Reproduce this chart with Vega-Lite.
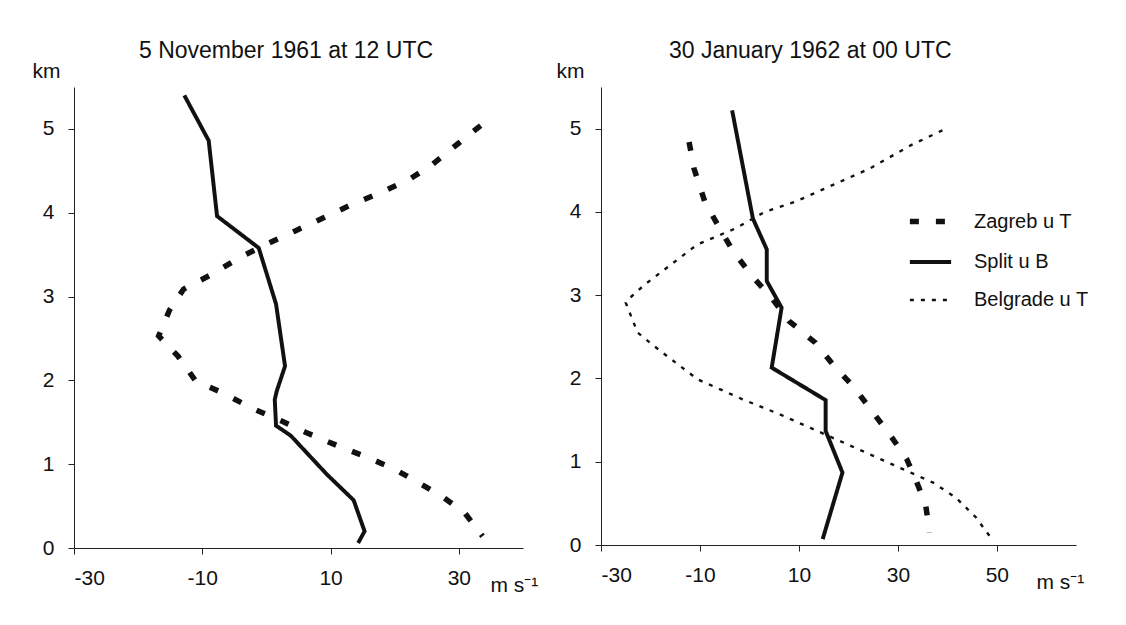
{
  "$schema": "https://vega.github.io/schema/vega-lite/v6.json",
  "background": "white",
  "padding": {"left": 32, "top": 40, "right": 10, "bottom": 10},
  "bounds": "flush",
  "spacing": 78,
  "config": {
    "font": "Liberation Sans",
    "view": {"stroke": null},
    "axis": {
      "grid": false,
      "domainColor": "#222",
      "tickColor": "#222",
      "labelColor": "#111",
      "titleColor": "#111",
      "labelFont": "Liberation Sans",
      "titleFont": "Liberation Sans",
      "labelFontSize": 21,
      "titleFontSize": 21,
      "titleFontWeight": "normal",
      "tickSize": 6,
      "labelExpr": "replace(datum.label, '−', '-')"
    },
    "title": {"font": "Liberation Sans", "fontSize": 23, "fontWeight": "normal", "color": "#111"}
  },
  "datasets": {
    "left": [
      {"station": "Split", "i": 1, "u": -12.8, "z": 5.40},
      {"station": "Split", "i": 2, "u": -9.0, "z": 4.86},
      {"station": "Split", "i": 3, "u": -7.7, "z": 3.96},
      {"station": "Split", "i": 4, "u": -1.2, "z": 3.58},
      {"station": "Split", "i": 5, "u": 1.5, "z": 2.91},
      {"station": "Split", "i": 6, "u": 2.9, "z": 2.17},
      {"station": "Split", "i": 7, "u": 1.6, "z": 1.87},
      {"station": "Split", "i": 8, "u": 1.3, "z": 1.77},
      {"station": "Split", "i": 9, "u": 1.5, "z": 1.46},
      {"station": "Split", "i": 10, "u": 3.8, "z": 1.34},
      {"station": "Split", "i": 11, "u": 9.4, "z": 0.88},
      {"station": "Split", "i": 12, "u": 13.6, "z": 0.57},
      {"station": "Split", "i": 13, "u": 15.3, "z": 0.20},
      {"station": "Split", "i": 14, "u": 14.3, "z": 0.06},
      {"station": "Zagreb", "i": 1, "u": 33.4, "z": 5.04},
      {"station": "Zagreb", "i": 2, "u": 29.8, "z": 4.82},
      {"station": "Zagreb", "i": 3, "u": 25.6, "z": 4.56},
      {"station": "Zagreb", "i": 4, "u": 22.3, "z": 4.40},
      {"station": "Zagreb", "i": 5, "u": 17.8, "z": 4.24},
      {"station": "Zagreb", "i": 6, "u": 12.8, "z": 4.08},
      {"station": "Zagreb", "i": 7, "u": 8.9, "z": 3.94},
      {"station": "Zagreb", "i": 8, "u": 4.4, "z": 3.78},
      {"station": "Zagreb", "i": 9, "u": -0.1, "z": 3.62},
      {"station": "Zagreb", "i": 10, "u": -4.3, "z": 3.46},
      {"station": "Zagreb", "i": 11, "u": -8.4, "z": 3.27},
      {"station": "Zagreb", "i": 12, "u": -12.9, "z": 3.09},
      {"station": "Zagreb", "i": 13, "u": -15.1, "z": 2.84},
      {"station": "Zagreb", "i": 14, "u": -16.8, "z": 2.53},
      {"station": "Zagreb", "i": 15, "u": -13.8, "z": 2.29},
      {"station": "Zagreb", "i": 16, "u": -11.0, "z": 1.99},
      {"station": "Zagreb", "i": 17, "u": -6.8, "z": 1.85},
      {"station": "Zagreb", "i": 18, "u": -2.3, "z": 1.67},
      {"station": "Zagreb", "i": 19, "u": 2.2, "z": 1.52},
      {"station": "Zagreb", "i": 20, "u": 6.1, "z": 1.38},
      {"station": "Zagreb", "i": 21, "u": 11.1, "z": 1.22},
      {"station": "Zagreb", "i": 22, "u": 15.8, "z": 1.08},
      {"station": "Zagreb", "i": 23, "u": 20.0, "z": 0.94},
      {"station": "Zagreb", "i": 24, "u": 23.7, "z": 0.78},
      {"station": "Zagreb", "i": 25, "u": 27.3, "z": 0.62},
      {"station": "Zagreb", "i": 26, "u": 30.9, "z": 0.42},
      {"station": "Zagreb", "i": 27, "u": 33.7, "z": 0.14}
    ],
    "right": [
      {"station": "Split", "i": 1, "u": -3.5, "z": 5.22},
      {"station": "Split", "i": 2, "u": 0.7, "z": 3.92},
      {"station": "Split", "i": 3, "u": 3.5, "z": 3.55},
      {"station": "Split", "i": 4, "u": 3.5, "z": 3.17},
      {"station": "Split", "i": 5, "u": 6.5, "z": 2.85},
      {"station": "Split", "i": 6, "u": 4.5, "z": 2.13},
      {"station": "Split", "i": 7, "u": 15.4, "z": 1.74},
      {"station": "Split", "i": 8, "u": 15.4, "z": 1.37},
      {"station": "Split", "i": 9, "u": 18.8, "z": 0.87},
      {"station": "Split", "i": 10, "u": 14.8, "z": 0.07},
      {"station": "Zagreb", "i": 1, "u": -12.2, "z": 4.84},
      {"station": "Zagreb", "i": 2, "u": -11.2, "z": 4.52},
      {"station": "Zagreb", "i": 3, "u": -9.0, "z": 4.12},
      {"station": "Zagreb", "i": 4, "u": -6.0, "z": 3.80},
      {"station": "Zagreb", "i": 5, "u": -3.3, "z": 3.53},
      {"station": "Zagreb", "i": 6, "u": 0.5, "z": 3.23},
      {"station": "Zagreb", "i": 7, "u": 4.2, "z": 2.99},
      {"station": "Zagreb", "i": 8, "u": 8.0, "z": 2.69},
      {"station": "Zagreb", "i": 9, "u": 13.3, "z": 2.43},
      {"station": "Zagreb", "i": 10, "u": 17.1, "z": 2.15},
      {"station": "Zagreb", "i": 11, "u": 21.2, "z": 1.89},
      {"station": "Zagreb", "i": 12, "u": 25.0, "z": 1.59},
      {"station": "Zagreb", "i": 13, "u": 28.8, "z": 1.29},
      {"station": "Zagreb", "i": 14, "u": 31.8, "z": 1.03},
      {"station": "Zagreb", "i": 15, "u": 33.7, "z": 0.77},
      {"station": "Zagreb", "i": 16, "u": 35.6, "z": 0.49},
      {"station": "Zagreb", "i": 17, "u": 36.4, "z": 0.15},
      {"station": "Belgrade", "i": 1, "u": 39.0, "z": 4.98},
      {"station": "Belgrade", "i": 2, "u": 32.6, "z": 4.80},
      {"station": "Belgrade", "i": 3, "u": 24.3, "z": 4.52},
      {"station": "Belgrade", "i": 4, "u": 15.2, "z": 4.28},
      {"station": "Belgrade", "i": 5, "u": 9.2, "z": 4.12},
      {"station": "Belgrade", "i": 6, "u": 3.1, "z": 4.00},
      {"station": "Belgrade", "i": 7, "u": -2.9, "z": 3.80},
      {"station": "Belgrade", "i": 8, "u": -10.5, "z": 3.61},
      {"station": "Belgrade", "i": 9, "u": -15.8, "z": 3.37},
      {"station": "Belgrade", "i": 10, "u": -21.1, "z": 3.13},
      {"station": "Belgrade", "i": 11, "u": -24.5, "z": 2.95},
      {"station": "Belgrade", "i": 12, "u": -25.0, "z": 2.91},
      {"station": "Belgrade", "i": 13, "u": -22.6, "z": 2.55},
      {"station": "Belgrade", "i": 14, "u": -18.0, "z": 2.33},
      {"station": "Belgrade", "i": 15, "u": -10.5, "z": 1.99},
      {"station": "Belgrade", "i": 16, "u": -1.4, "z": 1.75},
      {"station": "Belgrade", "i": 17, "u": 6.1, "z": 1.57},
      {"station": "Belgrade", "i": 18, "u": 15.2, "z": 1.33},
      {"station": "Belgrade", "i": 19, "u": 24.3, "z": 1.09},
      {"station": "Belgrade", "i": 20, "u": 30.3, "z": 0.93},
      {"station": "Belgrade", "i": 21, "u": 37.1, "z": 0.75},
      {"station": "Belgrade", "i": 22, "u": 41.7, "z": 0.57},
      {"station": "Belgrade", "i": 23, "u": 45.8, "z": 0.33},
      {"station": "Belgrade", "i": 24, "u": 48.5, "z": 0.11}
    ]
  },
  "resolve": {"scale": {"strokeDash": "independent", "strokeWidth": "independent"}, "legend": {"strokeDash": "independent", "strokeWidth": "independent"}},
  "hconcat": [
    {
      "width": 449,
      "height": 461,
      "title": {"text": "5 November 1961 at 12 UTC", "anchor": "start", "frame": "group", "dx": 65, "offset": -3},
      "data": {"name": "left"},
      "mark": {"type": "line", "color": "#111", "strokeCap": "butt", "strokeJoin": "miter"},
      "encoding": {
        "x": {"field": "u", "type": "quantitative", "scale": {"domain": [-30, 40], "nice": false, "zero": false},
          "axis": {"values": [-30, -10, 10, 30], "title": "m s⁻¹", "titleAngle": 0, "titleAlign": "left", "titleBaseline": "alphabetic", "titleX": 416, "titleY": 43, "labelPadding": 13}},
        "y": {"field": "z", "type": "quantitative", "scale": {"domain": [0, 5.5], "nice": false},
          "axis": {"values": [0, 1, 2, 3, 4, 5], "title": "km", "titleAngle": 0, "titleAlign": "left", "titleBaseline": "alphabetic", "titleX": -42, "titleY": -10, "labelPadding": 14}},
        "order": {"field": "i", "type": "quantitative"},
        "strokeDash": {"field": "station", "type": "nominal", "scale": {"domain": ["Zagreb", "Split", "Belgrade"], "range": [[9, 17], [1, 0], [4, 7]]}, "legend": null},
        "strokeWidth": {"field": "station", "type": "nominal", "scale": {"domain": ["Zagreb", "Split", "Belgrade"], "range": [5.5, 2.4, 2.2]}, "legend": null}
      }
    },
    {
      "width": 475,
      "height": 458,
      "title": {"text": "30 January 1962 at  00 UTC", "anchor": "start", "frame": "group", "dx": 68, "offset": -3},
      "data": {"name": "right"},
      "mark": {"type": "line", "color": "#111", "strokeCap": "butt", "strokeJoin": "miter"},
      "encoding": {
        "x": {"field": "u", "type": "quantitative", "scale": {"domain": [-30, 66], "nice": false, "zero": false},
          "axis": {"values": [-30, -10, 10, 30, 50], "title": "m s⁻¹", "titleAngle": 0, "titleAlign": "left", "titleBaseline": "alphabetic", "titleX": 435, "titleY": 43, "labelPadding": 13}},
        "y": {"field": "z", "type": "quantitative", "scale": {"domain": [0, 5.5], "nice": false},
          "axis": {"values": [0, 1, 2, 3, 4, 5], "title": "km", "titleAngle": 0, "titleAlign": "left", "titleBaseline": "alphabetic", "titleX": -45, "titleY": -10, "labelPadding": 14}},
        "order": {"field": "i", "type": "quantitative"},
        "strokeDash": {"field": "station", "type": "nominal", "scale": {"domain": ["Zagreb", "Split", "Belgrade"], "range": [[9, 17], [1, 0], [4, 7]]},
          "legend": {"orient": "none", "legendX": 306, "legendY": 111, "title": null, "symbolType": "stroke", "symbolSize": 1700, "symbolStrokeColor": "#111", "labelFontSize": 20, "labelFont": "Liberation Sans", "labelColor": "#111", "labelOffset": 20, "rowPadding": 6,
            "labelExpr": "datum.label == 'Zagreb' ? 'Zagreb  u T' : datum.label == 'Split' ? 'Split  u B' : 'Belgrade  u T'"}},
        "strokeWidth": {"field": "station", "type": "nominal", "scale": {"domain": ["Zagreb", "Split", "Belgrade"], "range": [5.5, 2.4, 2.2]},
          "legend": {"orient": "none", "legendX": 306, "legendY": 111, "title": null, "symbolType": "stroke", "symbolSize": 1700, "labelFontSize": 20, "labelOffset": 20, "rowPadding": 6,
            "labelExpr": "datum.label == 'Zagreb' ? 'Zagreb  u T' : datum.label == 'Split' ? 'Split  u B' : 'Belgrade  u T'"}}
      }
    }
  ]
}
